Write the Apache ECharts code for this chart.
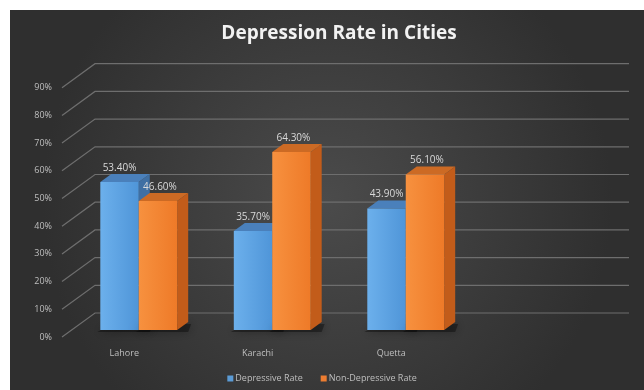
<!DOCTYPE html>
<html>
<head>
<meta charset="utf-8">
<script src="https://cdn.jsdelivr.net/npm/echarts@6/dist/echarts.min.js"></script>
<style>html,body{margin:0;padding:0;background:#fff}#c{width:644px;height:390px}</style>
</head>
<body>
<div id="c"></div>
<script>
const categories = ['Lahore', 'Karachi', 'Quetta', ''];
const depressive = [0.534, 0.357, 0.439];
const nonDepressive = [0.466, 0.643, 0.561];
const yTicks = [0, 0.1, 0.2, 0.3, 0.4, 0.5, 0.6, 0.7, 0.8, 0.9];
const seriesNames = ['Depressive Rate', 'Non-Depressive Rate'];

// 3D look parameters (styling only)
const DEPTH = [33, -24];     // full floor depth
const FRONT = [10, -7];      // bar front plane offset
const BAR_D = [11, -8];      // bar depth
const BAR_FRAC = 0.288;

const FONT = 'Open Sans';

function pct(v) { return (v * 100).toFixed(2) + '%'; }

function barRenderer(side, pal) {
  return function (params, api) {
    const cat = api.value(0), val = api.value(1);
    const band = api.size([1, 0])[0];
    const c = api.coord([cat, val]);
    const c0 = api.coord([cat, 0]);
    const bw = band * BAR_FRAC;
    const x0 = c[0] + (side === 0 ? -bw : 0) + FRONT[0];
    const x1 = x0 + bw;
    const yt = c[1] + FRONT[1];
    const yb = c0[1] + FRONT[1];
    const dx = BAR_D[0], dy = BAR_D[1];
    return {
      type: 'group',
      children: [
        { type: 'polygon', shape: { points: [[x0 - 3, yb + 2], [x1 + dx, yb + 2], [x1 + dx + 3, yb + dy + 2], [x0 + dx, yb + dy + 2]] },
          style: { fill: 'rgba(0,0,0,0.35)', shadowBlur: 10, shadowColor: 'rgba(0,0,0,0.9)' } },
        { type: 'polygon', shape: { points: [[x1, yt], [x1 + dx, yt + dy], [x1 + dx, yb + dy], [x1, yb]] },
          style: { fill: pal.side } },
        { type: 'polygon', shape: { points: [[x0, yt], [x0 + dx, yt + dy], [x1 + dx, yt + dy], [x1, yt]] },
          style: { fill: pal.top } },
        { type: 'rect', shape: { x: x0, y: yt, width: bw, height: yb - yt },
          style: { fill: new echarts.graphic.LinearGradient(0, 0, 1, 0, [{ offset: 0, color: pal.f1 }, { offset: 1, color: pal.f2 }]) } },
        { type: 'text', x: x0 + bw / 2 + (side === 0 ? 0 : 2), y: yt + dy - 1,
          style: { text: pct(val), fill: '#d9d9d9', font: '10px "' + FONT + '"', align: 'center', verticalAlign: 'bottom' } }
      ]
    };
  };
}

const chart = echarts.init(document.getElementById('c'), null, { renderer: 'canvas' });
chart.setOption({
  animation: false,
  backgroundColor: '#ffffff',
  graphic: [{
    type: 'rect', z: -100, silent: true,
    shape: { x: 10, y: 10, width: 634, height: 380 },
    style: { fill: new echarts.graphic.RadialGradient(0.5, 0.5, 0.75, [{ offset: 0, color: '#4b4b4b' }, { offset: 1, color: '#2f2f2f' }]) }
  }],
  title: {
    text: 'Depression Rate in Cities', left: 334, top: 19, textAlign: 'center',
    textStyle: { color: '#f2f2f2', fontSize: 19, fontWeight: 'bold', fontFamily: FONT }
  },
  legend: {
    data: seriesNames, bottom: 2, left: 'center', icon: 'rect', itemWidth: 6, itemHeight: 6, itemGap: 18,
    textStyle: { color: '#bfbfbf', fontSize: 9, fontFamily: FONT, padding: [0, 0, 0, -3] }
  },
  grid: { left: 62, right: 48, top: 60, bottom: 53 },
  xAxis: {
    type: 'category', data: categories,
    axisLine: { show: false }, axisTick: { show: false },
    axisLabel: { color: '#bfbfbf', fontSize: 9, fontFamily: FONT, margin: 12, padding: [0, 9, 0, 0] }
  },
  yAxis: {
    type: 'value', min: 0, max: 1, interval: 0.1,
    splitLine: { show: false }, axisLine: { show: false }, axisTick: { show: false },
    axisLabel: { color: '#bfbfbf', fontSize: 9, fontFamily: FONT, margin: 10,
      formatter: v => (v > 0.95 ? '' : Math.round(v * 100) + '%') }
  },
  series: [
    {
      type: 'custom', name: 'grid', z: 1, silent: true,
      data: yTicks.map(v => [0, v]),
      renderItem: function (params, api) {
        const band = api.size([1, 0])[0];
        const c = api.coord([0, api.value(1)]);
        const left = c[0] - band / 2;
        const right = api.coord([categories.length - 1, 0])[0] + band / 2;
        return {
          type: 'polyline',
          shape: { points: [[left, c[1]], [left + DEPTH[0], c[1] + DEPTH[1]], [right + DEPTH[0], c[1] + DEPTH[1]]] },
          style: { stroke: '#6e6e6e', lineWidth: 1.2, fill: null }
        };
      }
    },
    {
      type: 'custom', name: seriesNames[0], z: 2, itemStyle: { color: '#5b9bd5' },
      data: depressive.map((v, i) => [i, v]),
      renderItem: barRenderer(0, { f1: '#6cb0ec', f2: '#4f95d8', top: '#4a80bb', side: '#3f6fa3' })
    },
    {
      type: 'custom', name: seriesNames[1], z: 3, itemStyle: { color: '#ed7d31' },
      data: nonDepressive.map((v, i) => [i, v]),
      renderItem: barRenderer(1, { f1: '#f7913f', f2: '#ee7a28', top: '#cc6a24', side: '#c25c1a' })
    }
  ]
});
</script>
</body>
</html>
